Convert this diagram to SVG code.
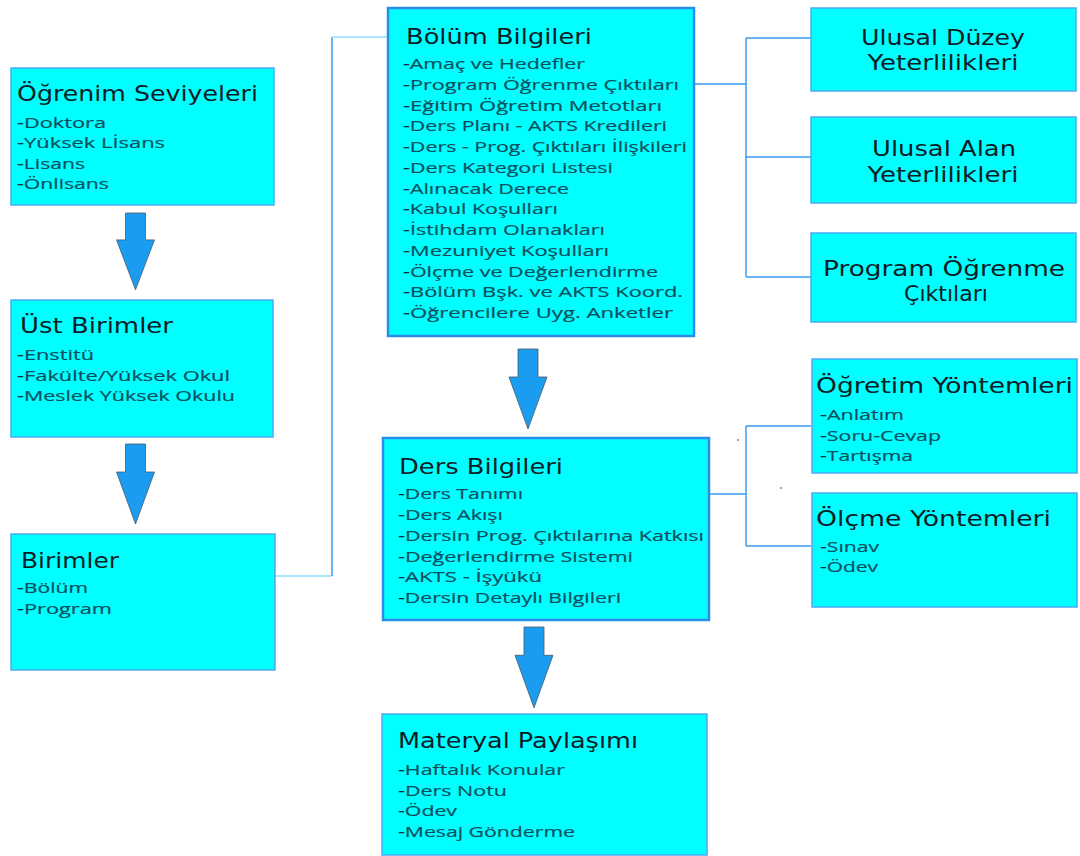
<svg xmlns="http://www.w3.org/2000/svg" width="1080" height="856" viewBox="0 0 1080 856">
  <style>
    .box { fill: #00ffff; stroke: #4aaaf5; stroke-width: 1.5; }
    .box-main { fill: #00ffff; stroke: #2a8ee8; stroke-width: 2.5; }
    .title { font-family: "DejaVu Sans", "Open Sans", sans-serif; font-size: 21px; fill: #0b1d26; }
    .item { font-family: "Open Sans", "DejaVu Sans", sans-serif; font-size: 15px; fill: #0a4f5e; stroke: #0a4f5e; stroke-width: 0.2; }
    .dash { fill: #15252b; }
    .center { text-anchor: middle; }
    .link { fill: none; stroke: #3a9cf5; stroke-width: 1.5; }
    .link-light { fill: none; stroke: #8fdcff; stroke-width: 1.5; }
    .flow { fill: #1a9cf0; stroke: #4a5a66; stroke-width: 0.8; }
  </style>
  <defs>
    <!-- block arrow pointing down, origin at top-centre of the shaft -->
    <path id="downArrow" d="M-10,0 H10 V28 H19 L0,80 L-19,28 H-10 Z"/>
  </defs>

  <rect width="1080" height="856" fill="#ffffff"/>

  <!-- connectors -->
  <g id="connectors">
    <path class="link-light" d="M276,576 H332"/>
    <path class="link" d="M332,576 V37"/>
    <path class="link-light" d="M332,37 H388"/>
    <path class="link" d="M681,84 H746 M746,38 V277 M746,38 H811 M746,157 H811 M746,277 H811"/>
    <path class="link" d="M527,494 H746 M746,426 V546 M746,426 H811 M746,546 H811"/>
    <circle cx="738" cy="440" r="0.8" fill="#333"/>
    <circle cx="781" cy="488" r="0.8" fill="#333"/>
    <use href="#downArrow" class="flow" transform="translate(135.5,213) scale(1,0.96)"/>
    <use href="#downArrow" class="flow" transform="translate(135.5,444)"/>
    <use href="#downArrow" class="flow" transform="translate(528,349)"/>
    <use href="#downArrow" class="flow" transform="translate(534,627) scale(1,1.01)"/>
  </g>

  <g id="ogrenim-seviyeleri">
    <rect class="box" x="11" y="68" width="263" height="137"/>
    <text class="title" x="17" y="101" textLength="241" lengthAdjust="spacingAndGlyphs">Öğrenim Seviyeleri</text>
    <text class="item" x="17" y="127.5" textLength="89" lengthAdjust="spacingAndGlyphs"><tspan class="dash">-</tspan>Doktora</text>
    <text class="item" x="17" y="148" textLength="148" lengthAdjust="spacingAndGlyphs"><tspan class="dash">-</tspan>Yüksek Lİsans</text>
    <text class="item" x="17" y="168.5" textLength="68" lengthAdjust="spacingAndGlyphs"><tspan class="dash">-</tspan>Lisans</text>
    <text class="item" x="17" y="189" textLength="92" lengthAdjust="spacingAndGlyphs"><tspan class="dash">-</tspan>Önlisans</text>
  </g>

  <g id="ust-birimler">
    <rect class="box" x="11" y="300" width="262" height="137"/>
    <text class="title" x="20" y="333" textLength="153" lengthAdjust="spacingAndGlyphs">Üst Birimler</text>
    <text class="item" x="17" y="360" textLength="77" lengthAdjust="spacingAndGlyphs"><tspan class="dash">-</tspan>Enstitü</text>
    <text class="item" x="17" y="381" textLength="213" lengthAdjust="spacingAndGlyphs"><tspan class="dash">-</tspan>Fakülte/Yüksek Okul</text>
    <text class="item" x="17" y="401" textLength="218" lengthAdjust="spacingAndGlyphs"><tspan class="dash">-</tspan>Meslek Yüksek Okulu</text>
  </g>

  <g id="birimler">
    <rect class="box" x="11" y="534" width="264" height="136"/>
    <text class="title" x="21" y="568" textLength="98" lengthAdjust="spacingAndGlyphs">Birimler</text>
    <text class="item" x="17" y="593" textLength="71" lengthAdjust="spacingAndGlyphs"><tspan class="dash">-</tspan>Bölüm</text>
    <text class="item" x="17" y="614" textLength="95" lengthAdjust="spacingAndGlyphs"><tspan class="dash">-</tspan>Program</text>
  </g>

  <g id="bolum-bilgileri">
    <rect class="box-main" x="388" y="8" width="306" height="328"/>
    <text class="title" x="406" y="43.5" textLength="186" lengthAdjust="spacingAndGlyphs">Bölüm Bilgileri</text>
    <text class="item" x="403" y="69" textLength="182" lengthAdjust="spacingAndGlyphs"><tspan class="dash">-</tspan>Amaç ve Hedefler</text>
    <text class="item" x="403" y="89.8" textLength="276" lengthAdjust="spacingAndGlyphs"><tspan class="dash">-</tspan>Program Öğrenme Çıktıları</text>
    <text class="item" x="403" y="110.5" textLength="259" lengthAdjust="spacingAndGlyphs"><tspan class="dash">-</tspan>Eğitim Öğretim Metotları</text>
    <text class="item" x="403" y="131.3" textLength="264" lengthAdjust="spacingAndGlyphs"><tspan class="dash">-</tspan>Ders Planı - AKTS Kredileri</text>
    <text class="item" x="403" y="152" textLength="284" lengthAdjust="spacingAndGlyphs"><tspan class="dash">-</tspan>Ders - Prog. Çıktıları İlişkileri</text>
    <text class="item" x="403" y="172.8" textLength="210" lengthAdjust="spacingAndGlyphs"><tspan class="dash">-</tspan>Ders Kategori Listesi</text>
    <text class="item" x="403" y="193.5" textLength="166" lengthAdjust="spacingAndGlyphs"><tspan class="dash">-</tspan>Alınacak Derece</text>
    <text class="item" x="403" y="214.3" textLength="155" lengthAdjust="spacingAndGlyphs"><tspan class="dash">-</tspan>Kabul Koşulları</text>
    <text class="item" x="403" y="235" textLength="202" lengthAdjust="spacingAndGlyphs"><tspan class="dash">-</tspan>İstihdam Olanakları</text>
    <text class="item" x="403" y="255.8" textLength="206" lengthAdjust="spacingAndGlyphs"><tspan class="dash">-</tspan>Mezuniyet Koşulları</text>
    <text class="item" x="403" y="276.5" textLength="255" lengthAdjust="spacingAndGlyphs"><tspan class="dash">-</tspan>Ölçme ve Değerlendirme</text>
    <text class="item" x="403" y="297.3" textLength="280" lengthAdjust="spacingAndGlyphs"><tspan class="dash">-</tspan>Bölüm Bşk. ve AKTS Koord.</text>
    <text class="item" x="403" y="318" textLength="270" lengthAdjust="spacingAndGlyphs"><tspan class="dash">-</tspan>Öğrencilere Uyg. Anketler</text>
  </g>

  <g id="ulusal-duzey">
    <rect class="box" x="811" y="8" width="265" height="83"/>
    <text class="title center" x="943" y="44.5" textLength="164" lengthAdjust="spacingAndGlyphs">Ulusal Düzey</text>
    <text class="title center" x="943" y="70" textLength="151" lengthAdjust="spacingAndGlyphs">Yeterlilikleri</text>
  </g>

  <g id="ulusal-alan">
    <rect class="box" x="811" y="117" width="265" height="86"/>
    <text class="title center" x="944" y="156" textLength="144" lengthAdjust="spacingAndGlyphs">Ulusal Alan</text>
    <text class="title center" x="943" y="182" textLength="151" lengthAdjust="spacingAndGlyphs">Yeterlilikleri</text>
  </g>

  <g id="program-ogrenme">
    <rect class="box" x="811" y="233" width="265" height="89"/>
    <text class="title center" x="944" y="275.5" textLength="242" lengthAdjust="spacingAndGlyphs">Program Öğrenme</text>
    <text class="title center" x="946" y="301" textLength="84" lengthAdjust="spacingAndGlyphs">Çıktıları</text>
  </g>

  <g id="ders-bilgileri">
    <rect class="box-main" x="383" y="438" width="326" height="182"/>
    <text class="title" x="399" y="474" textLength="164" lengthAdjust="spacingAndGlyphs">Ders Bilgileri</text>
    <text class="item" x="398" y="499" textLength="125" lengthAdjust="spacingAndGlyphs"><tspan class="dash">-</tspan>Ders Tanımı</text>
    <text class="item" x="398" y="520" textLength="105" lengthAdjust="spacingAndGlyphs"><tspan class="dash">-</tspan>Ders Akışı</text>
    <text class="item" x="398" y="541" textLength="306" lengthAdjust="spacingAndGlyphs"><tspan class="dash">-</tspan>Dersin Prog. Çıktılarına Katkısı</text>
    <text class="item" x="398" y="561.5" textLength="235" lengthAdjust="spacingAndGlyphs"><tspan class="dash">-</tspan>Değerlendirme Sistemi</text>
    <text class="item" x="398" y="582" textLength="144" lengthAdjust="spacingAndGlyphs"><tspan class="dash">-</tspan>AKTS - İşyükü</text>
    <text class="item" x="398" y="603" textLength="223" lengthAdjust="spacingAndGlyphs"><tspan class="dash">-</tspan>Dersin Detaylı Bilgileri</text>
  </g>

  <g id="ogretim-yontemleri">
    <rect class="box" x="812" y="359" width="265" height="114"/>
    <text class="title" x="816" y="393" textLength="257" lengthAdjust="spacingAndGlyphs">Öğretim Yöntemleri</text>
    <text class="item" x="820" y="420" textLength="84" lengthAdjust="spacingAndGlyphs"><tspan class="dash">-</tspan>Anlatım</text>
    <text class="item" x="820" y="441" textLength="121" lengthAdjust="spacingAndGlyphs"><tspan class="dash">-</tspan>Soru-Cevap</text>
    <text class="item" x="820" y="461" textLength="93" lengthAdjust="spacingAndGlyphs"><tspan class="dash">-</tspan>Tartışma</text>
  </g>

  <g id="olcme-yontemleri">
    <rect class="box" x="812" y="493" width="265" height="114"/>
    <text class="title" x="816" y="526" textLength="235" lengthAdjust="spacingAndGlyphs">Ölçme Yöntemleri</text>
    <text class="item" x="820" y="552" textLength="59" lengthAdjust="spacingAndGlyphs"><tspan class="dash">-</tspan>Sınav</text>
    <text class="item" x="820" y="572" textLength="58" lengthAdjust="spacingAndGlyphs"><tspan class="dash">-</tspan>Ödev</text>
  </g>

  <g id="materyal-paylasimi">
    <rect class="box" x="382" y="714" width="325" height="141"/>
    <text class="title" x="398" y="748" textLength="240" lengthAdjust="spacingAndGlyphs">Materyal Paylaşımı</text>
    <text class="item" x="398" y="775" textLength="167" lengthAdjust="spacingAndGlyphs"><tspan class="dash">-</tspan>Haftalık Konular</text>
    <text class="item" x="398" y="796" textLength="109" lengthAdjust="spacingAndGlyphs"><tspan class="dash">-</tspan>Ders Notu</text>
    <text class="item" x="398" y="816" textLength="59" lengthAdjust="spacingAndGlyphs"><tspan class="dash">-</tspan>Ödev</text>
    <text class="item" x="398" y="837" textLength="177" lengthAdjust="spacingAndGlyphs"><tspan class="dash">-</tspan>Mesaj Gönderme</text>
  </g>
</svg>
